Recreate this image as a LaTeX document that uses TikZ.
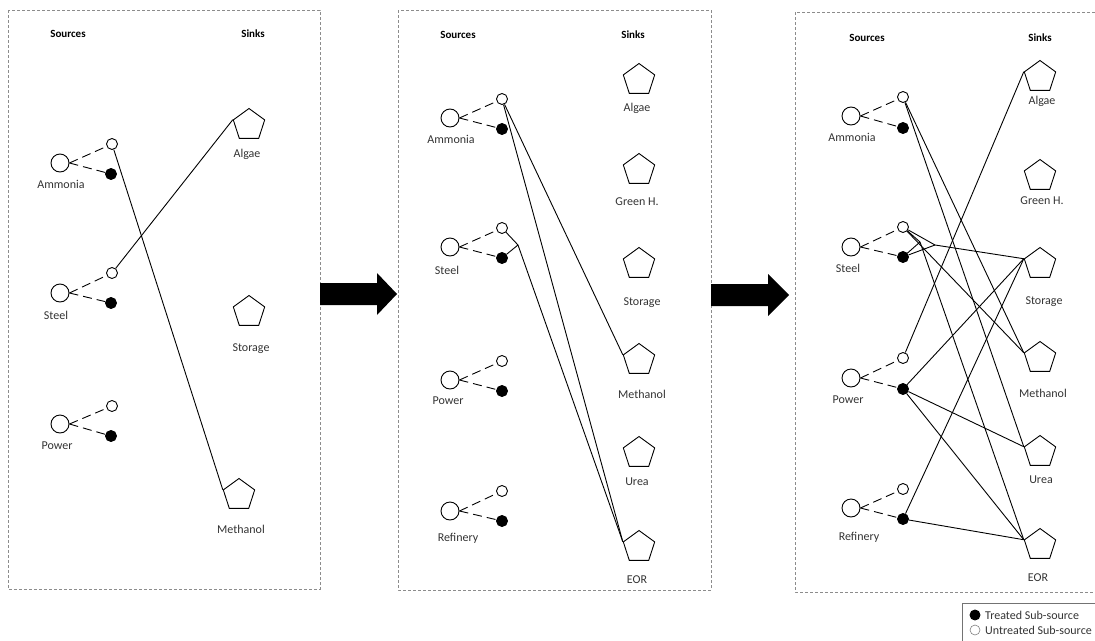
\documentclass[tikz,border=0pt]{standalone}
\usepackage{fontspec}
\setmainfont{Carlito}
\usetikzlibrary{shapes.geometric}
\begin{document}
\begin{tikzpicture}[x=1pt,y=-1pt,
  src/.style={circle,draw,line width=0.9pt,minimum size=18pt,inner sep=0pt},
  untr/.style={circle,draw,line width=0.9pt,minimum size=11pt,inner sep=0pt,fill=white},
  trt/.style={circle,draw,fill=black,line width=0.9pt,minimum size=11pt,inner sep=0pt},
  sink/.style={regular polygon,regular polygon sides=5,draw,line width=0.9pt,minimum size=33pt,inner sep=0pt},
  lbl/.style={font=\fontsize{12}{14}\selectfont,text=black!80,inner sep=0pt},
  hdr/.style={font=\fontsize{11}{13}\selectfont\bfseries,inner sep=0pt},
  panel/.style={draw=black!45,dash pattern=on 3pt off 2pt,line width=0.6pt},
  subln/.style={dash pattern=on 9pt off 5pt,line width=0.9pt},
  flow/.style={line width=0.9pt},
  bigarrow/.style={fill=black}
]
\useasboundingbox (0,0) rectangle (1095,640);
\clip (0,0) rectangle (1095,640);

% ---------- panel boxes ----------
\draw[panel] (8,10) rectangle (320,589);
\draw[panel] (398,10) rectangle (711,590);
\draw[panel] (795,12) rectangle (1110,592);

% ---------- arrows ----------
\fill[bigarrow] (320,283) -- (377,283) -- (377,273) -- (397,294) -- (377,315) -- (377,305) -- (320,305) -- cycle;
\fill[bigarrow] (711,284) -- (768,284) -- (768,274) -- (789,295) -- (768,316) -- (768,306) -- (711,306) -- cycle;

% ================= Panel 1 =================
\node[hdr] (h1a) at (68,34) {Sources};
\node[hdr] (h1b) at (253,34) {Sinks};

\node[src] (a1) at (60,163) {};
\node[untr] (a1u) at (112,144) {};
\node[trt] (a1t) at (111,174) {};
\node[lbl] (a1l) at (61,184) {Ammonia};
\node[src] (s1) at (60,293) {};
\node[untr] (s1u) at (112,273) {};
\node[trt] (s1t) at (111,303) {};
\node[lbl] (s1l) at (56,315) {Steel};
\node[src] (p1) at (60,424) {};
\node[untr] (p1u) at (112,406) {};
\node[trt] (p1t) at (111,436) {};
\node[lbl] (p1l) at (57,446) {Power};

\foreach \n in {a1,s1,p1}{
  \draw[subln] (\n.east) -- (\n u);
  \draw[subln] (\n.east) -- (\n t);
}

\node[sink] (alg1) at (249,125) {};
\node[lbl] (alg1l) at (247,154) {Algae};
\node[sink] (sto1) at (249,312) {};
\node[lbl] (sto1l) at (251,349) {Storage};
\node[sink] (met1) at (239,495) {};
\node[lbl] (met1l) at (241,529) {Methanol};

\draw[flow] (a1u) -- (met1.corner 2);
\draw[flow] (s1u) -- (alg1.corner 2);

% ================= Panel 2 =================
\node[hdr] (h2a) at (458,35) {Sources};
\node[hdr] (h2b) at (633,35) {Sinks};

\node[src] (a2) at (450,118) {};
\node[untr] (a2u) at (502,99) {};
\node[trt] (a2t) at (502,129) {};
\node[lbl] (a2l) at (451,139) {Ammonia};
\node[src] (s2) at (450,247) {};
\node[untr] (s2u) at (502,228) {};
\node[trt] (s2t) at (502,258) {};
\node[lbl] (s2l) at (447,270) {Steel};
\node[src] (p2) at (450,380) {};
\node[untr] (p2u) at (502,361) {};
\node[trt] (p2t) at (502,391) {};
\node[lbl] (p2l) at (448,401) {Power};
\node[src] (r2) at (450,511) {};
\node[untr] (r2u) at (502,491) {};
\node[trt] (r2t) at (502,521) {};
\node[lbl] (r2l) at (458,538) {Refinery};

\foreach \n in {a2,s2,p2,r2}{
  \draw[subln] (\n.east) -- (\n u);
  \draw[subln] (\n.east) -- (\n t);
}

\node[sink] (alg2) at (639,80) {};
\node[lbl] (alg2l) at (637,108) {Algae};
\node[sink] (grn2) at (639,170) {};
\node[lbl] (grn2l) at (637,202) {Green H.};
\node[sink] (sto2) at (639,264) {};
\node[lbl] (sto2l) at (642,303) {Storage};
\node[sink] (met2) at (639,360) {};
\node[lbl] (met2l) at (642,394) {Methanol};
\node[sink] (ure2) at (639,453) {};
\node[lbl] (ure2l) at (637,482) {Urea};
\node[sink] (eor2) at (639,547) {};
\node[lbl] (eor2l) at (637,580) {EOR};

\coordinate (j2) at (518,245);
\draw[flow] (a2u) -- (met2.corner 2);
\draw[flow] (a2u) -- (eor2.corner 2);
\draw[flow] (s2u) -- (j2);
\draw[flow] (s2t) -- (j2);
\draw[flow] (j2) -- (eor2.corner 2);

% ================= Panel 3 =================
\node[hdr] (h3a) at (867,38) {Sources};
\node[hdr] (h3b) at (1040,38) {Sinks};

\node[src] (a3) at (851,116) {};
\node[untr] (a3u) at (903,97) {};
\node[trt] (a3t) at (903,128) {};
\node[lbl] (a3l) at (852,137) {Ammonia};
\node[src] (s3) at (851,247) {};
\node[untr] (s3u) at (903,227) {};
\node[trt] (s3t) at (903,257) {};
\node[lbl] (s3l) at (848,268) {Steel};
\node[src] (p3) at (851,378) {};
\node[untr] (p3u) at (903,358) {};
\node[trt] (p3t) at (903,389) {};
\node[lbl] (p3l) at (848,400) {Power};
\node[src] (r3) at (851,508) {};
\node[untr] (r3u) at (903,489) {};
\node[trt] (r3t) at (903,519) {};
\node[lbl] (r3l) at (859,537) {Refinery};

\foreach \n in {a3,s3,p3,r3}{
  \draw[subln] (\n.east) -- (\n u);
  \draw[subln] (\n.east) -- (\n t);
}

\node[sink] (alg3) at (1040,77) {};
\node[lbl] (alg3l) at (1042,101) {Algae};
\node[sink] (grn3) at (1040,176) {};
\node[lbl] (grn3l) at (1042,201) {Green H.};
\node[sink] (sto3) at (1040,264) {};
\node[lbl] (sto3l) at (1044,302) {Storage};
\node[sink] (met3) at (1040,358) {};
\node[lbl] (met3l) at (1043,393) {Methanol};
\node[sink] (ure3) at (1040,452) {};
\node[lbl] (ure3l) at (1041,480) {Urea};
\node[sink] (eor3) at (1040,545) {};
\node[lbl] (eor3l) at (1038,578) {EOR};

\coordinate (k1) at (935,245);
\coordinate (k2) at (920,242);
\draw[flow] (p3u) -- (alg3.corner 2);
\draw[flow] (a3u) -- (met3.corner 2);
\draw[flow] (a3u) -- (ure3.corner 2);
\draw[flow] (s3u) -- (k1);
\draw[flow] (s3t) -- (k1);
\draw[flow] (k1) -- (sto3.corner 2);
\draw[flow] (s3u) -- (k2);
\draw[flow] (s3t) -- (k2);
\draw[flow] (k2) -- (eor3.corner 2);
\draw[flow] (s3u) -- (met3.corner 2);
\draw[flow] (p3t) -- (sto3.corner 2);
\draw[flow] (p3t) -- (ure3.corner 2);
\draw[flow] (p3t) -- (eor3.corner 2);
\draw[flow] (r3t) -- (sto3.corner 2);
\draw[flow] (r3t) -- (eor3.corner 2);

% ---------- legend ----------
\draw[black!55,line width=0.6pt] (962,603) rectangle (1110,660);
\node[trt,minimum size=10pt] (lgt) at (975,615) {};
\node[lbl,anchor=west] (lgtl) at (985,615) {Treated Sub-source};
\node[circle,draw=black!50,line width=0.6pt,minimum size=10pt,inner sep=0pt] (lgu) at (975,630) {};
\node[lbl,anchor=west] (lgul) at (985,630) {Untreated Sub-source};
\end{tikzpicture}
\end{document}
